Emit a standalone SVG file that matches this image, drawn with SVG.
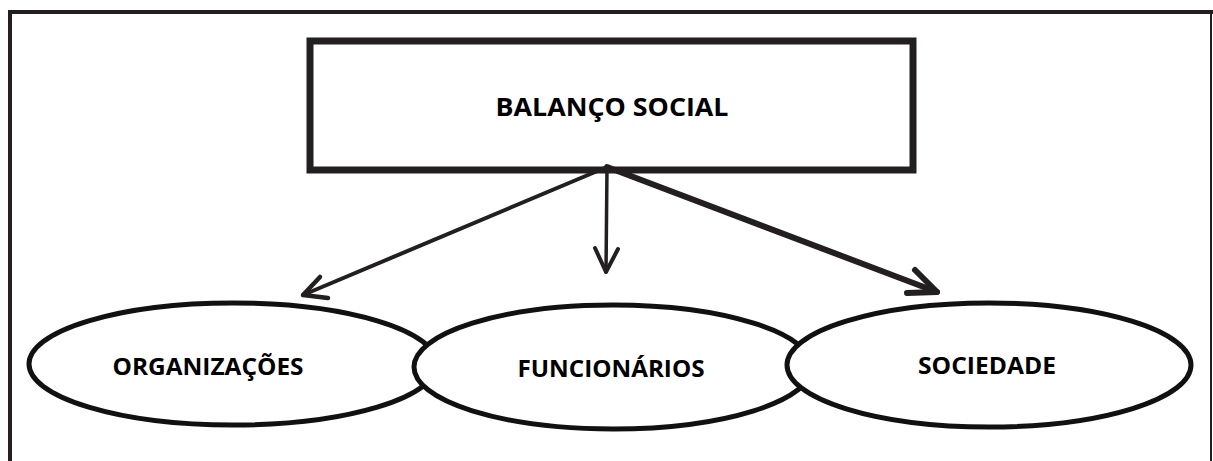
<svg xmlns="http://www.w3.org/2000/svg" width="1213" height="461" viewBox="0 0 1213 461">
<style>
.lbl{font-family:"Open Sans","Liberation Sans",sans-serif;font-weight:bold;fill:#000;text-anchor:middle}
.ell{fill:#fff;stroke:#111;stroke-width:5}
.arr{fill:none;stroke:#231f20;stroke-linecap:round;stroke-linejoin:round}
</style>
<rect width="1213" height="461" fill="#fff"/>
<g id="frame" stroke="#231f20" fill="none">
<line x1="8" y1="12" x2="1213" y2="12" stroke-width="4"/>
<line x1="10" y1="10" x2="10" y2="461" stroke-width="4"/>
<line x1="1211" y1="10" x2="1211" y2="461" stroke-width="2"/>
</g>
<g id="balanco">
<rect x="310" y="41" width="603" height="129" fill="#fff" stroke="#231f20" stroke-width="7"/>
<text class="lbl" x="612" y="116" font-size="25" textLength="233" lengthAdjust="spacingAndGlyphs">BALANÇO SOCIAL</text>
</g>
<g id="connectors" class="arr">
<line x1="607" y1="167" x2="303" y2="295" stroke-width="4"/>
<polyline points="320,277 303,295 328,298" stroke-width="4.5"/>
<line x1="607" y1="167" x2="606" y2="272" stroke-width="3.5"/>
<polyline points="595,248 606,272 618,249" stroke-width="4"/>
<line x1="607" y1="167" x2="937" y2="292" stroke-width="6"/>
<polyline points="915,270 937,292 907,293" stroke-width="6"/>
</g>
<g id="organizacoes">
<ellipse class="ell" cx="233" cy="364" rx="204" ry="61"/>
<text class="lbl" x="208" y="375" font-size="24" textLength="191" lengthAdjust="spacingAndGlyphs">ORGANIZAÇÕES</text>
</g>
<g id="funcionarios">
<ellipse class="ell" cx="613" cy="367" rx="199" ry="62"/>
<text class="lbl" x="611" y="377" font-size="24" textLength="187" lengthAdjust="spacingAndGlyphs">FUNCIONÁRIOS</text>
</g>
<g id="sociedade">
<ellipse class="ell" cx="989" cy="365" rx="202" ry="62"/>
<text class="lbl" x="987" y="374" font-size="24" textLength="138" lengthAdjust="spacingAndGlyphs">SOCIEDADE</text>
</g>
</svg>
